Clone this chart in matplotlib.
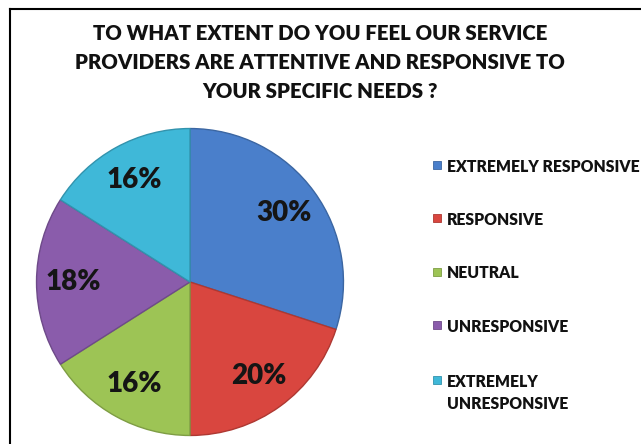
import matplotlib
matplotlib.use("Agg")
import matplotlib.pyplot as plt
import matplotlib.colors as mcolors
from matplotlib.lines import Line2D
from matplotlib.patches import Rectangle
import numpy as np

title = ("TO WHAT EXTENT DO YOU FEEL OUR SERVICE\n"
         "PROVIDERS ARE ATTENTIVE AND RESPONSIVE TO\n"
         "YOUR SPECIFIC NEEDS ?")
categorias = ["EXTREMELY RESPONSIVE", "RESPONSIVE", "NEUTRAL",
              "UNRESPONSIVE", "EXTREMELY\nUNRESPONSIVE"]
porcentajes = [30, 20, 16, 18, 16]
colores = ["#4a7fcb", "#d9463f", "#9dc455", "#8a5cab", "#3fb8d8"]

plt.rcParams['font.family'] = ['Lato', 'DejaVu Sans']

W, H = 641, 444
fig = plt.figure(figsize=(W / 100, H / 100), dpi=100)

# marco negro: solo borde izquierdo y superior
fig.add_artist(Line2D([9.5 / W, 9.5 / W], [0, 1 - 9.5 / H], color='black',
                      lw=1.5, transform=fig.transFigure))
fig.add_artist(Line2D([9.5 / W, 1], [1 - 9.5 / H, 1 - 9.5 / H], color='black',
                      lw=1.5, transform=fig.transFigure))

fig.text(320 / W, 1 - 62.5 / H, title, ha='center', va='center',
         fontsize=14.7, fontweight='heavy', color='#111111', linespacing=1.62)

# pastel: centro (190, 282), radio 155 px
R = 155
ax = fig.add_axes([(190 - R) / W, (H - 282 - R) / H, 2 * R / W, 2 * R / H])
bordes = [tuple(np.array(mcolors.to_rgb(c)) * 0.8) for c in colores]
cunas, textos = ax.pie(porcentajes, colors=colores, startangle=90,
                       counterclock=False, radius=1.0)
for w, b in zip(cunas, bordes):
    w.set_edgecolor(b)
    w.set_linewidth(1.0)

# etiquetas de porcentaje
total = sum(porcentajes)
ang0 = 90.0
for v in porcentajes:
    ang = ang0 - 360.0 * v / total / 2
    ang0 -= 360.0 * v / total
    x = 0.76 * np.cos(np.radians(ang))
    y = 0.76 * np.sin(np.radians(ang))
    ax.text(x, y, f"{v}%", ha='center', va='center', fontsize=20,
            fontweight='heavy', color='#151515')

ax.set_xlim(-1.01, 1.01)
ax.set_ylim(-1.01, 1.01)
ax.set_aspect('equal')
ax.axis('off')

# leyenda
filas_y = [165, 218, 272, 325, 380]
for cat, col, b, fy in zip(categorias, colores, bordes, filas_y):
    fig.add_artist(Rectangle(((433) / W, (H - fy - 4) / H), 8 / W, 8 / H,
                             facecolor=col, edgecolor=b, lw=0.6,
                             transform=fig.transFigure))
    for k, linea in enumerate(cat.split("\n")):
        fig.text(447 / W, (H - fy - 22 * k) / H, linea, ha='left',
                 va='center_baseline', fontsize=11.3, fontweight='heavy',
                 color='#111111')

fig.savefig("out.png", dpi=100)
